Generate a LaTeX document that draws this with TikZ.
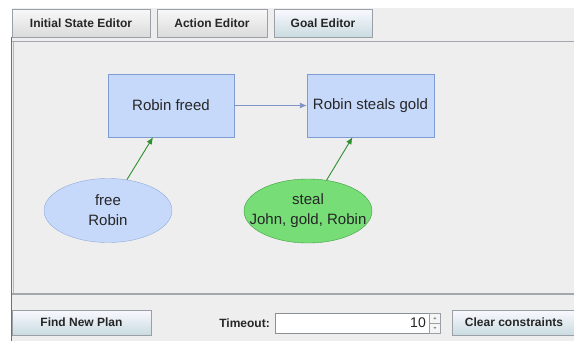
\documentclass[tikz,border=0pt]{standalone}
\usepackage{fontspec}
\setmainfont{Liberation Sans}
\usetikzlibrary{shapes.geometric,arrows.meta}

\definecolor{panelbg}{HTML}{EEEEEE}
\definecolor{framedark}{HTML}{707070}
\definecolor{framegray}{HTML}{A3A7AB}
\definecolor{btnborder}{HTML}{9AA0A6}
\definecolor{stepfill}{HTML}{C6D9FB}
\definecolor{stepline}{HTML}{7F9CD2}
\definecolor{actfill}{HTML}{77DD77}
\definecolor{actline}{HTML}{3E9E3E}
\definecolor{orderline}{HTML}{7F93C6}
\definecolor{causeline}{HTML}{2F8F2F}

\tikzset{
  tabbtn/.style={draw=btnborder, rectangle, inner sep=0pt, minimum height=28pt,
    top color=white!60!panelbg, bottom color=panelbg!92!black,
    font=\fontsize{12}{14}\selectfont\bfseries, text=black!85},
  bluebtn/.style={tabbtn, top color=white!70!blue!8, bottom color=blue!20!cyan!10!white!88!black},
  stepbox/.style={draw=stepline, fill=stepfill, rectangle, minimum width=126pt,
    minimum height=63pt, inner sep=0pt, font=\fontsize{15}{18}\selectfont, text=black!85},
  actionoval/.style={ellipse, minimum width=128pt, minimum height=64pt,
    inner xsep=-20pt, inner ysep=0pt, align=center,
    font=\fontsize{15}{20}\selectfont, text=black!85},
  orderarrow/.style={draw=orderline, line width=0.9pt,
    -{Latex[length=7pt,width=6pt]}},
  causearrow/.style={draw=causeline, line width=0.9pt,
    -{Latex[length=7pt,width=6pt]}},
  labeltext/.style={font=\fontsize{12}{14}\selectfont\bfseries, text=black!85, inner sep=0pt},
}

\begin{document}
\begin{tikzpicture}[x=1pt,y=-1pt]
  \useasboundingbox (0,0) rectangle (574,341);
  % window background
  \fill[white] (0,0) rectangle (574,341);
  \fill[panelbg] (12,8) rectangle (574,341);

  % editor tabs
  \node[tabbtn, minimum width=138pt] (tabinit) at (81,23) {Initial State Editor};
  \node[tabbtn, minimum width=110pt] (tabaction) at (212,23) {Action Editor};
  \node[bluebtn, minimum width=98pt] (tabgoal) at (323,23) {Goal Editor};

  % panel frame
  \draw[framegray, line width=1.5pt] (12,41.5) -- (574,41.5);
  \draw[framegray!80, line width=1pt] (13,42) -- (13,294);
  \draw[framegray, line width=1.2pt] (12,294) -- (574,294);
  \draw[framedark, line width=1.2pt] (11.5,37) -- (11.5,341);

  % goal steps
  \node[stepbox] (freed) at (171,105.5) {Robin freed};
  \node[stepbox, minimum width=127pt] (steals) at (370.5,105.5) {Robin steals gold};
  \draw[orderarrow] (freed.east) -- (steals.west);

  % actions
  \node[actionoval, draw=stepline!85, fill=stepfill] (free) at (108,210.5) {free\\Robin};
  \node[actionoval, draw=actline, fill=actfill] (steal) at (308,211) {steal\\John, gold, Robin};
  \draw[causearrow] (free) -- ([xshift=-18pt]freed.south);
  \draw[causearrow] (steal) -- ([xshift=-18pt]steals.south);

  % bottom controls
  \node[bluebtn, minimum width=139pt, minimum height=25pt] (findplan) at (81.5,322.5) {Find New Plan};
  \node[labeltext, anchor=east] (timeoutlbl) at (270,323) {Timeout:};
  \node[draw=btnborder!90!black, fill=white, rectangle, inner sep=0pt,
        minimum width=154pt, minimum height=20pt] (timeoutfield) at (352,323) {};
  \node[anchor=east, inner sep=0pt, font=\fontsize{14}{16}\selectfont, text=black!85]
        (timeoutval) at (426,323) {10};
  \node[draw=btnborder, fill=panelbg!60!white, rectangle, inner sep=0pt,
        minimum width=11pt, minimum height=20pt, anchor=west] (spinner) at (timeoutfield.east) {};
  \draw[btnborder] (spinner.west) -- (spinner.east);
  % spinner arrows: up in the top half, down in the bottom half
  \fill[black!45] ([yshift=5pt]spinner.center) ++(-1.5,1) -- ++(3,0) -- ++(-1.5,-2) -- cycle;
  \fill[black!45] ([yshift=-5pt]spinner.center) ++(-1.5,-1) -- ++(3,0) -- ++(-1.5,2) -- cycle;
  \node[bluebtn, minimum width=124pt, minimum height=25pt] (clearbtn) at (514,322.5) {Clear constraints};
\end{tikzpicture}
\end{document}
